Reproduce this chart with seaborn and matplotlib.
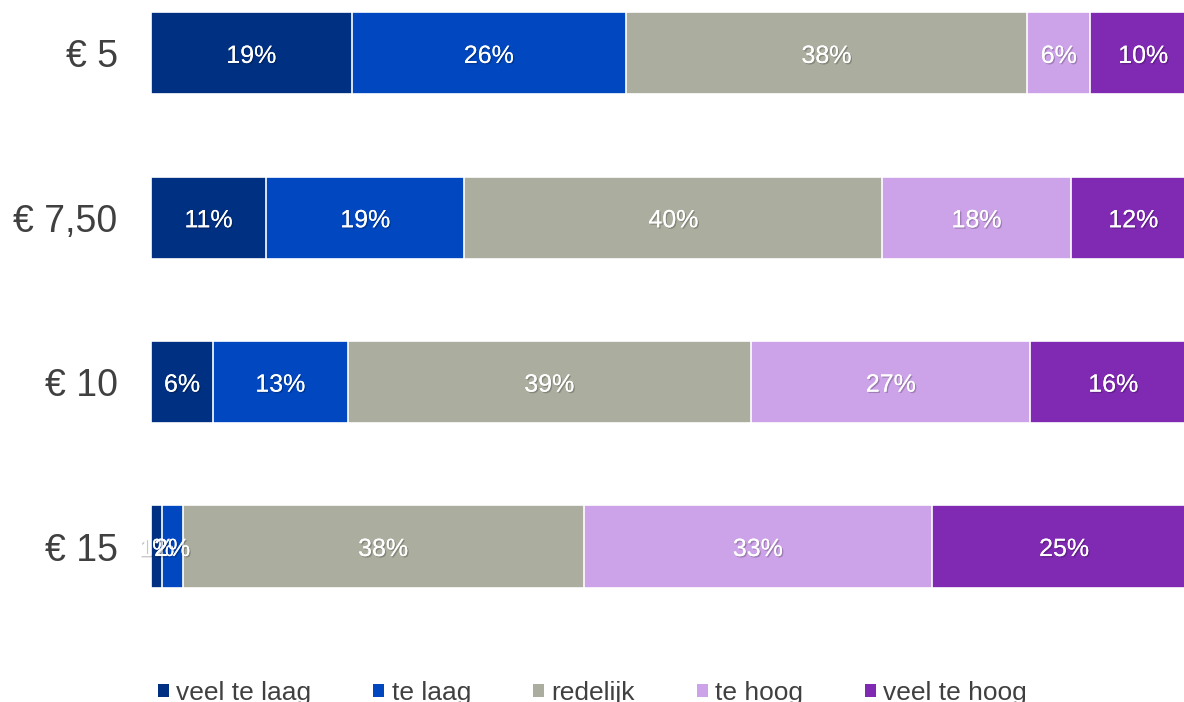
import pandas as pd
import seaborn as sns
from matplotlib import pyplot as plt
from matplotlib import patheffects as pe
from matplotlib.patches import Patch

# data
prices = ["€ 5", "€ 7,50", "€ 10", "€ 15"]
answers = ["veel te laag", "te laag", "redelijk", "te hoog", "veel te hoog"]
veel_te_laag = [19, 11, 6, 1]
te_laag = [26, 19, 13, 2]
redelijk = [38, 40, 39, 38]
te_hoog = [6, 18, 27, 33]
veel_te_hoog = [10, 12, 16, 25]
colors = ["#003082", "#0047C0", "#ABAD9E", "#CCA2E8", "#8029B3"]

sns.set_style("white")
plt.rcParams["font.family"] = ["Liberation Sans", "DejaVu Sans"]

df = pd.DataFrame(
    dict(zip(answers, [veel_te_laag, te_laag, redelijk, te_hoog, veel_te_hoog])),
    index=prices,
)
# 100% stacked: each row scaled to its own total
share = df.div(df.sum(axis=1), axis=0) * 100
cum = share.cumsum(axis=1)
plot_df = cum.reset_index().rename(columns={"index": "prijs"})

fig = plt.figure(figsize=(11.84, 7.02), dpi=100)
ax = fig.add_axes([0.1275, 0.1044, 0.8826, 0.9366])

# draw the stacks from the right end backwards so the shorter ones sit on top
for col, c in reversed(list(zip(answers, colors))):
    sns.barplot(data=plot_df, x=col, y="prijs", orient="h", color=c,
                saturation=1, width=0.5, edgecolor="white", linewidth=1.2, ax=ax)

# percentage labels in the middle of each segment
shadow = [pe.withSimplePatchShadow(offset=(1, -1), shadow_rgbFace="black", alpha=0.22), pe.Normal()]
for i, p in enumerate(prices):
    for col in answers:
        mid = cum.loc[p, col] - share.loc[p, col] / 2
        ax.text(mid, i, f"{df.loc[p, col]}%", ha="center", va="center_baseline",
                color="white", fontsize=18, path_effects=shadow)

ax.set_xlim(0, 100)
ax.set_ylim(3.5, -0.5)
ax.set_xlabel("")
ax.set_ylabel("")
ax.set_xticks([])
ax.tick_params(axis="y", length=0, pad=24, labelsize=27, labelcolor="#404040")
sns.despine(ax=ax, left=True, bottom=True)

handles = [Patch(facecolor=c, edgecolor="none") for c in colors]
fig.legend(handles, answers, loc="center left", bbox_to_anchor=(158 / 1184, 1 - 693 / 702),
           ncol=5, frameon=False, fontsize=19, labelcolor="#404040",
           handlelength=0.42, handleheight=0.42, handletextpad=0.27,
           columnspacing=2.35, borderpad=0, borderaxespad=0)

fig.savefig("out.png", dpi=100)
